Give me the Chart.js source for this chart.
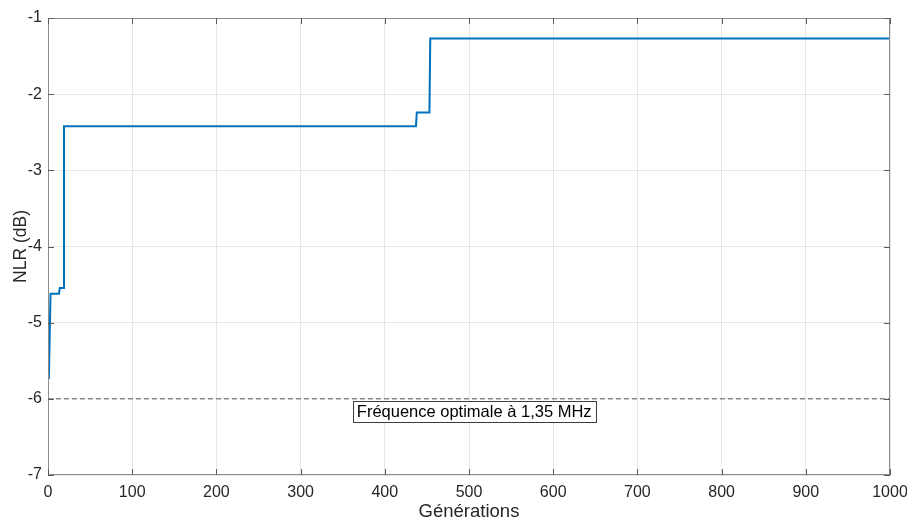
<!DOCTYPE html>
<html>
<head>
<meta charset="utf-8">
<script src="https://cdn.jsdelivr.net/npm/chart.js@4"></script>
<style>
  html, body { margin: 0; padding: 0; background: #fff; }
  #wrap { width: 907px; height: 523px; position: relative; }
</style>
</head>
<body>
<div id="wrap"><canvas id="chart"></canvas></div>
<script>
// breakpoints (generation, NLR in dB)
const generations = [1, 3, 13, 14, 18, 19, 437, 438, 453, 454, 1000];
const nlrValues = [-5.74, -4.62, -4.62, -4.545, -4.545, -2.42, -2.42, -2.24, -2.24, -1.27, -1.27];

const optimalLevel = -6;
const optimalRange = [0, 1000];
const optimalLabel = 'Fréquence optimale à 1,35 MHz';
const labelPos = { x: 362, y: -6.16 };

const xTicks = [0, 100, 200, 300, 400, 500, 600, 700, 800, 900, 1000];
const yTicks = [-7, -6, -5, -4, -3, -2, -1];

const FONT = "'Liberation Sans', Arial, sans-serif";

// inward tick marks + frame, like the original axes box
const frameTicks = {
  id: 'frameTicks',
  afterDraw(chart) {
    const { ctx, chartArea: a, scales } = chart;
    ctx.save();
    ctx.strokeStyle = '#8c8c8c';
    ctx.lineWidth = 1;
    ctx.strokeRect(a.left + 0.5, a.top + 0.5, a.right - a.left - 1, a.bottom - a.top - 1);
    ctx.strokeStyle = '#5a5a5a';
    ctx.beginPath();
    xTicks.forEach(t => {
      const x = Math.round(scales.x.getPixelForValue(t)) + 0.5;
      ctx.moveTo(x, a.bottom); ctx.lineTo(x, a.bottom - 6);
      ctx.moveTo(x, a.top); ctx.lineTo(x, a.top + 6);
    });
    yTicks.forEach(t => {
      const y = Math.round(scales.y.getPixelForValue(t)) + 0.5;
      ctx.moveTo(a.left, y); ctx.lineTo(a.left + 6, y);
      ctx.moveTo(a.right, y); ctx.lineTo(a.right - 6, y);
    });
    ctx.stroke();

    // annotation box
    const px = scales.x.getPixelForValue(labelPos.x);
    const py = scales.y.getPixelForValue(labelPos.y);
    ctx.font = '16.5px ' + FONT;
    const w = ctx.measureText(optimalLabel).width;
    const bx = Math.round(px) + 0.5, by = Math.round(py - 10) + 0.5;
    ctx.fillStyle = '#fff';
    ctx.fillRect(bx, by, Math.round(w + 8), 21);
    ctx.strokeStyle = '#3c3c3c';
    ctx.strokeRect(bx, by, Math.round(w + 8), 21);
    ctx.fillStyle = '#000';
    ctx.textBaseline = 'middle';
    ctx.fillText(optimalLabel, px + 4, py + 1);
    ctx.restore();
  }
};

new Chart(document.getElementById('chart'), {
  type: 'line',
  data: {
    datasets: [
      {
        label: 'NLR',
        data: generations.map((g, i) => ({ x: g, y: nlrValues[i] })),
        borderColor: '#0072BD',
        borderWidth: 2,
        pointRadius: 0,
        tension: 0,
        fill: false
      },
      {
        label: 'optimal',
        data: optimalRange.map(g => ({ x: g, y: optimalLevel })),
        borderColor: '#8a8a8a',
        borderWidth: 1.5,
        borderDash: [5, 3],
        pointRadius: 0,
        fill: false
      }
    ]
  },
  options: {
    responsive: true,
    maintainAspectRatio: false,
    animation: false,
    layout: { padding: { top: 18, right: 17, left: 0, bottom: 0 } },
    plugins: { legend: { display: false }, tooltip: { enabled: false } },
    scales: {
      x: {
        type: 'linear',
        min: 0, max: 1000,
        afterBuildTicks: s => { s.ticks = xTicks.map(v => ({ value: v })); },
        afterFit: s => { s.height = 48; s.paddingLeft = 0; s.paddingRight = 0; },
        grid: { color: '#e6e6e6', drawTicks: false },
        border: { display: false },
        ticks: { color: '#262626', font: { family: FONT, size: 16 }, padding: 8, maxRotation: 0, callback: v => String(v) },
        title: { display: true, text: 'Générations', color: '#262626', font: { family: FONT, size: 18.5 }, padding: { top: 5, bottom: 0 } }
      },
      y: {
        min: -7, max: -1,
        afterBuildTicks: s => { s.ticks = yTicks.map(v => ({ value: v })); },
        afterFit: s => { s.width = 48; s.paddingTop = 0; s.paddingBottom = 0; },
        grid: { color: '#e6e6e6', drawTicks: false },
        border: { display: false },
        ticks: { color: '#262626', font: { family: FONT, size: 16 }, padding: 6, callback: v => String(v) },
        title: { display: true, text: 'NLR (dB)', color: '#262626', font: { family: FONT, size: 17.5 }, padding: { top: 11, bottom: 0 } }
      }
    }
  },
  plugins: [frameTicks]
});
</script>
</body>
</html>
